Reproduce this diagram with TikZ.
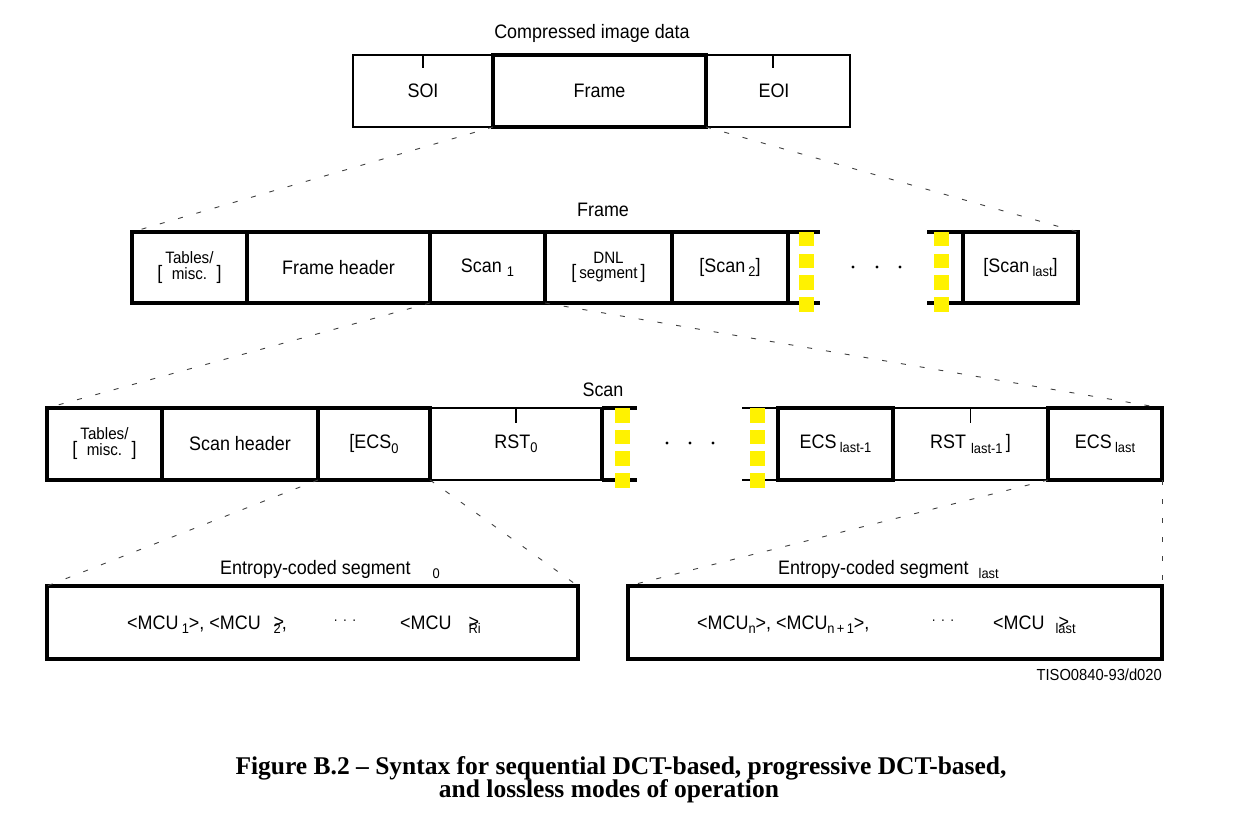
\documentclass[tikz,border=0pt]{standalone}
\usepackage{fontspec}
\setmainfont{Liberation Sans}[FakeStretch=0.92]
\newfontfamily\capfont{Liberation Serif}
\newcommand\dfs{\fontsize{19.5}{22}\selectfont}
\newcommand\subx[1]{\raisebox{-4.5pt}{\fontsize{14}{15}\selectfont #1}}
\newcommand\brk[2]{[\hspace{3pt}{\fontsize{16.5}{13.5}\selectfont\begin{tabular}[b]{@{}c@{}}#1\\#2\end{tabular}}\hspace{3pt}]}
\begin{document}
\begin{tikzpicture}[x=1pt,y=-1pt,
  every node/.style={font=\dfs, inner sep=0pt},
  cell/.style={rectangle, anchor=north west, line width=3.5pt, draw, inner sep=0pt, outer sep=0pt},
  thincell/.style={rectangle, anchor=north west, line width=1.5pt, draw, inner sep=0pt, outer sep=0pt},
  thk/.style={line width=3.5pt},
  thn/.style={line width=1.5pt},
  proj/.style={line width=0.9pt, black!75, dash pattern=on 5pt off 14pt},
  ysq/.style={fill=yellow, draw=none}
]
\useasboundingbox (0,0) rectangle (1258,818);

% ---------- top row ----------
\node (cidl) at (592,33) {Compressed image data};
\node[thincell, minimum width=140pt, minimum height=72pt] (soi) at (353,55) {SOI};
\node[thincell, minimum width=144pt, minimum height=72pt] (eoi) at (706,55) {\hspace{-8pt}EOI};
\node[cell, minimum width=213pt, minimum height=72pt] (frm) at (493,55) {Frame};
\draw[thn] (soi.north) -- ++(0,13);
\draw[thn] ([xshift=-5pt]eoi.north) -- ++(0,13);

% ---------- frame row ----------
\node (frl) at (603,210) {Frame};
\node[cell, minimum width=115pt, minimum height=71pt] (ftab) at (132,232) {\brk{Tables/}{misc.}};
\node[cell, minimum width=183pt, minimum height=71pt] (fhdr) at (247,232) {Frame header};
\node[cell, minimum width=115pt, minimum height=71pt] (fs1) at (430,232) {Scan\ \subx{1}};
\node[cell, minimum width=127pt, minimum height=71pt] (fdnl) at (545,232) {\brk{DNL}{segment}};
\node[cell, minimum width=116pt, minimum height=71pt] (fs2) at (672,232) {[Scan\,\subx{2}]};
\node[cell, minimum width=115pt, minimum height=71pt] (fsl) at (963,232) {[Scan\,\subx{last}]};
\draw[thk] (fs2.north east) -- ++(32,0);
\draw[thk] (fs2.south east) -- ++(32,0);
\draw[thk] (fsl.north west) -- ++(-36,0);
\draw[thk] (fsl.south west) -- ++(-36,0);
\foreach \i in {0,...,3} {
  \fill[ysq] (799,232+\i*21.7) rectangle ++(15,14.5);
  \fill[ysq] (934,232+\i*21.7) rectangle ++(15,14.5);
}
\foreach \xx in {853,877,900} \fill (\xx,267) circle (1.6pt);

% ---------- scan row ----------
\node (scl) at (603,390) {Scan};
\node[thincell, minimum width=172pt, minimum height=72pt] (srst0) at (430,408) {RST\subx{0}};
\node[thincell, minimum width=155pt, minimum height=72pt] (srstl) at (893,408) {RST\ \subx{last-1}\,]};
\node[cell, minimum width=115pt, minimum height=72pt] (stab) at (47,408) {\brk{Tables/}{misc.}};
\node[cell, minimum width=156pt, minimum height=72pt] (shdr) at (162,408) {Scan header};
\node[cell, minimum width=112pt, minimum height=72pt] (secs0) at (318,408) {[ECS\subx{0}};
\node[cell, minimum width=115pt, minimum height=72pt] (secsl1) at (778,408) {ECS\,\subx{last-1}};
\node[cell, minimum width=114pt, minimum height=72pt] (secsl) at (1048,408) {ECS\,\subx{last}};
\draw[thk] (srst0.north east) -- (srst0.south east);
\draw[thk] (srst0.north east) -- ++(35,0);
\draw[thk] (srst0.south east) -- ++(35,0);
\draw[thn] (secsl1.north west) -- ++(-36,0);
\draw[thn] (secsl1.south west) -- ++(-36,0);
\draw[thn] (srst0.north) -- ++(0,15);
\draw[thn] (srstl.north) -- ++(0,15);
\foreach \i in {0,...,3} {
  \fill[ysq] (615,408+\i*21.7) rectangle ++(15,14.5);
  \fill[ysq] (750,408+\i*21.7) rectangle ++(15,14.5);
}
\foreach \xx in {667,690,713} \fill (\xx,443) circle (1.6pt);

% ---------- entropy-coded segments ----------
\node[anchor=base west] (el0) at (220,574) {Entropy-coded segment\hspace{22pt}\subx{0}};
\node[anchor=base west] (ell) at (778,574) {Entropy-coded segment\hspace{10pt}\subx{last}};
\node[cell, minimum width=531pt, minimum height=73pt] (eb0) at (47,586) {};
\node[cell, minimum width=534pt, minimum height=73pt] (ebl) at (628,586) {};
\node[anchor=base west] (m0a) at (127,629) {<MCU\,\subx{1}>, <MCU\hspace{13pt}\rlap{\raisebox{1pt}{>}}\subx{2}\hspace{1pt},};
\node[font=\fontsize{14}{14}\selectfont] (m0d) at (345,622) {·\hspace{5pt}·\hspace{5pt}·};
\node[anchor=base west] (m0b) at (400,629) {<MCU\hspace{17pt}\rlap{\raisebox{1pt}{>}}\subx{Ri}};
\node[anchor=base west] (mla) at (697,629) {<MCU\subx{n}>, <MCU\subx{n\,+\,1}>,};
\node[font=\fontsize{14}{14}\selectfont] (mld) at (943,622) {·\hspace{5pt}·\hspace{5pt}·};
\node[anchor=base west] (mlb) at (993,629) {<MCU\hspace{11pt}\rlap{\hspace{3pt}\raisebox{1pt}{>}}\subx{last}};
\node[anchor=base east, font=\fontsize{16}{17}\selectfont] (tiso) at (1162,680) {TISO0840-93/d020};

% ---------- projection lines ----------
\draw[proj] (frm.south west) -- (ftab.north west);
\draw[proj] (frm.south east) -- (fsl.north east);
\draw[proj] (fs1.south west) -- (stab.north west);
\draw[proj] (fs1.south east) -- (secsl.north east);
\draw[proj] (secs0.south west) -- (eb0.north west);
\draw[proj] (secs0.south east) -- (eb0.north east);
\draw[proj] (secsl.south west) -- (ebl.north west);
\draw[proj] (secsl.south east) -- (ebl.north east);

% ---------- caption ----------
\node[font=\capfont\bfseries\fontsize{25.5}{26}\selectfont] (cap1) at (621,768) {Figure B.2 – Syntax for sequential DCT-based, progressive DCT-based,};
\node[font=\capfont\bfseries\fontsize{25.5}{26}\selectfont] (cap2) at (609,791) {and lossless modes of operation};
\end{tikzpicture}
\end{document}
